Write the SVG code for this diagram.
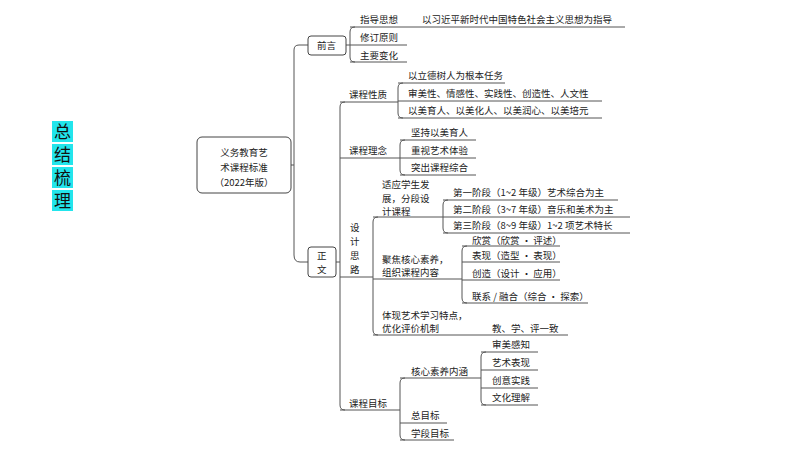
<svg xmlns="http://www.w3.org/2000/svg" width="800" height="450" viewBox="0 0 800 450">
<style>
text{font-family:"Noto Sans CJK SC","Noto Sans",sans-serif;font-size:9.5px;fill:#222}
.l{fill:none;stroke:#555;stroke-width:1}
.b{fill:#fff;stroke:#444;stroke-width:1}
.t{font-size:17px;fill:#111}
</style>
<rect width="800" height="450" fill="#fff"/>
<g id="title">
<rect x="52" y="121" width="21" height="21" fill="#22e5ec"/>
<rect x="52" y="144" width="21" height="21" fill="#22e5ec"/>
<rect x="52" y="167" width="21" height="21" fill="#22e5ec"/>
<rect x="52" y="190" width="21" height="21" fill="#22e5ec"/>
<text class="t" x="54" y="138">总</text>
<text class="t" x="54" y="161">结</text>
<text class="t" x="54" y="184">梳</text>
<text class="t" x="54" y="207">理</text>
</g>
<g id="connectors">
<path class="l" d="M291,165 H294 M308,45 H299 Q294,45 294,50 V255 Q294,262 300,262 H308"/>
<path class="l" d="M346,45 H350 M355,27 Q350,27 350,32 V57 Q350,62 355,62 M350,27 H625 M350,45 H407 M350,62 H407"/>
<path class="l" d="M336,262 H340 M345,102 Q340,102 340,107 V405 Q340,410 345,410 M340,102 H398 M340,158 H400 M340,277 H373 M340,410 H400"/>
<path class="l" d="M403,83 Q398,83 398,88 V113 Q398,118 403,118 M398,83 H505 M398,101 H602 M398,118 H602"/>
<path class="l" d="M405,140 Q400,140 400,145 V170 Q400,175 405,175 M400,140 H476 M400,158 H476 M400,175 H476"/>
<path class="l" d="M378,217 Q373,217 373,222 V330 Q373,335 378,335 M373,217 H443 M373,279 H462 M373,335 H568"/>
<path class="l" d="M448,200 Q443,200 443,205 V228 Q443,233 448,233 M443,200 H618 M443,217 H630 M443,233 H630"/>
<path class="l" d="M467,246 Q462,246 462,251 V298 Q462,303 467,303 M462,246 H560 M462,262 H560 M462,280 H560 M462,303 H588"/>
<path class="l" d="M405,378 Q400,378 400,383 V435 Q400,440 405,440 M400,378 H481 M400,423 H447 M400,440 H454"/>
<path class="l" d="M486,352 Q481,352 481,357 V400 Q481,405 486,405 M481,352 H538 M481,370 H538 M481,388 H538 M481,405 H538"/>
</g>
<g id="root"><rect class="b" x="197" y="137" width="94" height="56" rx="5"/>
<text x="244" y="156" text-anchor="middle" font-size="12">义务教育艺</text>
<text x="244" y="171" text-anchor="middle" font-size="12">术课程标准</text>
<text x="244" y="186" text-anchor="middle" font-size="12">（2022年版）</text></g>
<g id="qianyan"><rect class="b" x="308" y="36" width="38" height="19" rx="3"/><text x="317" y="49">前言</text></g>
<g id="zhengwen"><rect class="b" x="308" y="247" width="28" height="30" rx="3"/><text x="317" y="259">正</text><text x="317" y="273">文</text></g>
<g id="qy-children">
<text x="360" y="23">指导思想</text><text x="422" y="23">以习近平新时代中国特色社会主义思想为指导</text>
<text x="360" y="41">修订原则</text><text x="360" y="59">主要变化</text></g>
<g id="xingzhi"><text x="349" y="98">课程性质</text>
<text x="408" y="79">以立德树人为根本任务</text>
<text x="408" y="97">审美性、情感性、实践性、创造性、人文性</text>
<text x="408" y="114">以美育人、以美化人、以美润心、以美培元</text></g>
<g id="linian"><text x="349" y="154">课程理念</text>
<text x="411" y="136">坚持以美育人</text><text x="411" y="154">重视艺术体验</text><text x="411" y="171">突出课程综合</text></g>
<g id="sheji"><text x="350" y="231">设</text><text x="350" y="245">计</text><text x="350" y="259">思</text><text x="350" y="273">路</text>
<text x="382" y="188">适应学生发</text><text x="382" y="202">展，分段设</text><text x="382" y="215">计课程</text>
<text x="453" y="196">第一阶段（1~2 年级）艺术综合为主</text>
<text x="453" y="213">第二阶段（3~7 年级）音乐和美术为主</text>
<text x="453" y="229">第三阶段（8~9 年级）1~2 项艺术特长</text>
<text x="472" y="244">欣赏（欣赏 · 评述）</text><text x="472" y="259">表现（造型 · 表现）</text>
<text x="382" y="263">聚焦核心素养，</text><text x="382" y="276">组织课程内容</text>
<text x="472" y="277">创造（设计 · 应用）</text><text x="472" y="300">联系 / 融合（综合 · 探索）</text>
<text x="382" y="319">体现艺术学习特点，</text><text x="382" y="332">优化评价机制</text>
<text x="492" y="332">教、学、评一致</text></g>
<g id="mubiao"><text x="349" y="407">课程目标</text>
<text x="411" y="375">核心素养内涵</text>
<text x="492" y="348">审美感知</text><text x="492" y="366">艺术表现</text><text x="492" y="384">创意实践</text><text x="492" y="401">文化理解</text>
<text x="411" y="419">总目标</text><text x="411" y="437">学段目标</text></g>
</svg>
